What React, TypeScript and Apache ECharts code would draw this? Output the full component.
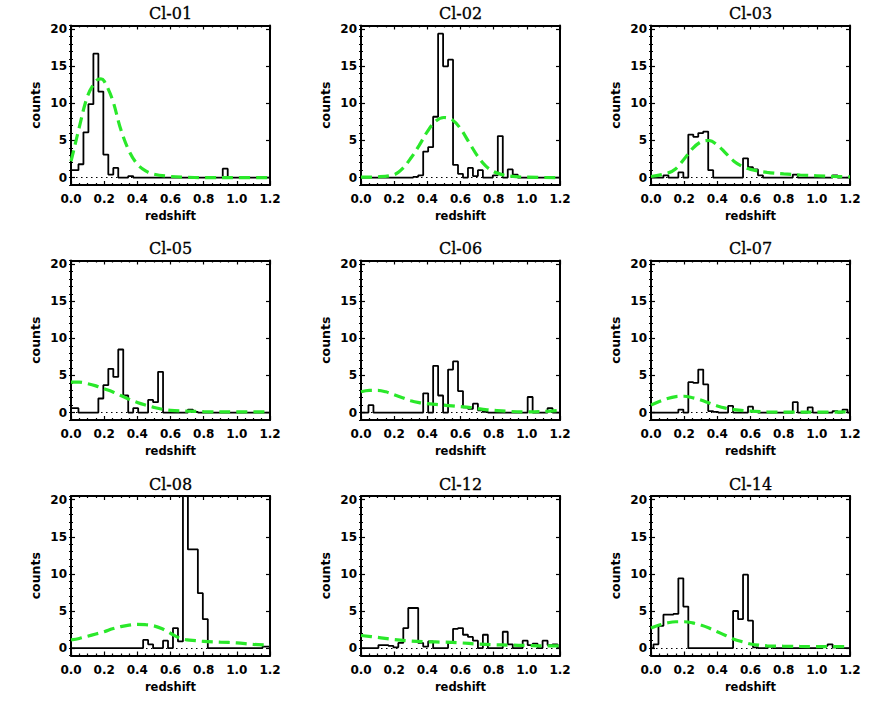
import React, { useEffect, useRef } from "react";
import * as echarts from "echarts";

// ---------- DATA ----------
const CLUSTERS = ["Cl-01", "Cl-02", "Cl-03", "Cl-05", "Cl-06", "Cl-07", "Cl-08", "Cl-12", "Cl-14"];
const BIN_WIDTH = 0.03; // histogram bins centred at 0, 0.03, ... 1.2
const X_TICKS_MAX = 1.2;
const Y_TICKS = [0, 5, 10, 15, 20];

// histogram counts per bin (41 bins, centres 0.00 .. 1.20)
const hist01 = [1, 1, 1.8, 6.1, 9.9, 16.7, 11.6, 3.1, 0.4, 1.3, 0, 0, 0.2, 0, 0, 0, 0, 0, 0, 0, 0, 0, 0, 0, 0, 0, 0, 0, 0, 0, 0, 1.2, 0, 0, 0, 0, 0, 0, 0, 0, 0];
const hist02 = [0, 0, 0, 0, 0, 0, 0, 0, 0, 0, 0, 0.1, 0.3, 3.5, 4.1, 8.2, 19.4, 15.0, 15.9, 1.7, 0.5, 0, 1.3, 0.2, 1.0, 0, 0, 0.3, 5.6, 0, 1.1, 0.4, 0, 0, 0, 0, 0, 0, 0, 0, 0];
const hist03 = [0, 0, 0, 0.3, 0, 0, 0.7, 0, 5.8, 5.5, 6.0, 6.2, 1.0, 0, 0, 0, 0, 0, 0, 2.6, 1.4, 1.1, 0.3, 0, 0, 0, 0, 0, 0, 0.4, 0, 0, 0, 0, 0, 0, 0, 0.3, 0, 0, 0];
const hist05 = [0.6, 0.6, 0, 0, 0, 0, 1.9, 3.7, 5.9, 4.8, 8.5, 2.3, 0, 0.6, 0, 0, 1.7, 1.4, 5.5, 0, 0, 0, 0, 0, 0.4, 0.1, 0, 0, 0, 0, 0, 0, 0, 0, 0, 0, 0, 0, 0, 0, 0];
const hist06 = [0, 0, 1.0, 0, 0, 0, 0, 0, 0, 0, 0, 0, 0, 2.6, 0, 6.3, 2.3, 0, 5.8, 6.9, 2.9, 0.7, 0.5, 1.2, 0.3, 0.1, 0, 0, 0, 0, 0, 0, 0, 0, 2.1, 0, 0, 0, 0.6, 0, 0];
const hist07 = [0, 0, 0, 0, 0, 0, 0.4, 0, 4.1, 4.0, 5.8, 3.8, 0.2, 0.1, 0, 0, 0.9, 0, 0, 0, 0.8, 0.2, 0, 0, 0, 0, 0, 0, 0, 1.4, 0, 0, 0.7, 0, 0, 0, 0, 0.2, 0, 0.4, 0];
const hist08 = [0, 0, 0, 0, 0, 0, 0, 0, 0, 0, 0, 0, 0, 0, 0, 1.1, 0.5, 0, 0, 1.0, 0, 2.7, 0.9, 25, 13.3, 13.3, 7.4, 3.9, 0, 0, 0, 0, 0, 0, 0, 0, 0, 0, 0, 0.2, 0.2];
const hist12 = [0, 0, 0, 0, 0.4, 0.4, 0.3, 0.1, 0.7, 2.7, 5.4, 5.4, 0.7, 0.2, 0.9, 0, 0, 0, 0.7, 2.6, 2.7, 1.8, 1.5, 1.0, 0, 1.8, 0, 0, 0, 2.2, 0.5, 0, 0, 1.0, 0.4, 0.6, 0, 1.0, 0.4, 0.5, 0];
const hist14 = [0, 0.5, 3.0, 4.5, 4.5, 4.6, 9.4, 5.6, 0, 0, 0, 0, 0, 0, 0, 0, 0, 5.0, 3.9, 9.9, 3.7, 0.1, 0, 0, 0.2, 0, 0, 0, 0, 0, 0, 0, 0, 0, 0, 0.3, 0.5, 0.1, 0, 0, 0];

// model curves: [redshift, counts]
const curve01 = [[0, 2.2], [0.02, 4], [0.05, 6.8], [0.1, 11], [0.15, 13], [0.18, 13.3], [0.2, 13], [0.25, 10.5], [0.3, 6.5], [0.35, 3.6], [0.4, 1.8], [0.45, 0.9], [0.5, 0.45], [0.6, 0.15], [0.7, 0.05], [0.8, 0], [1.0, 0], [1.2, 0]];
const curve02 = [[0, 0.05], [0.1, 0.1], [0.2, 0.4], [0.25, 1.2], [0.3, 2.6], [0.35, 4.3], [0.4, 6.2], [0.45, 7.6], [0.5, 8.1], [0.55, 7.8], [0.6, 6.6], [0.65, 4.8], [0.7, 3.0], [0.75, 1.6], [0.8, 0.8], [0.85, 0.4], [0.9, 0.2], [1.0, 0.05], [1.2, 0]];
const curve03 = [[0, 0.15], [0.1, 0.6], [0.15, 1.2], [0.2, 2.5], [0.25, 3.9], [0.3, 4.8], [0.35, 5.0], [0.4, 4.4], [0.45, 3.3], [0.5, 2.2], [0.55, 1.5], [0.6, 1.1], [0.7, 0.7], [0.8, 0.5], [0.9, 0.35], [1.0, 0.25], [1.1, 0.15], [1.2, 0.1]];
const curve05 = [[0, 4.1], [0.05, 4.1], [0.1, 3.9], [0.15, 3.6], [0.2, 3.2], [0.25, 2.8], [0.3, 2.3], [0.35, 1.8], [0.4, 1.35], [0.45, 1.0], [0.5, 0.7], [0.55, 0.45], [0.6, 0.3], [0.7, 0.2], [0.8, 0.12], [1.0, 0.1], [1.2, 0.1]];
const curve06 = [[0, 2.8], [0.05, 3.0], [0.1, 3.0], [0.15, 2.8], [0.2, 2.4], [0.25, 2.0], [0.3, 1.6], [0.35, 1.35], [0.4, 1.2], [0.45, 1.1], [0.5, 1.0], [0.55, 0.9], [0.6, 0.8], [0.65, 0.7], [0.7, 0.55], [0.75, 0.4], [0.8, 0.3], [0.9, 0.15], [1.0, 0.1], [1.1, 0.15], [1.2, 0.3]];
const curve07 = [[0, 1.0], [0.05, 1.5], [0.1, 1.9], [0.15, 2.15], [0.2, 2.2], [0.25, 2.0], [0.3, 1.7], [0.35, 1.3], [0.4, 0.9], [0.45, 0.6], [0.5, 0.4], [0.6, 0.2], [0.7, 0.1], [0.8, 0.05], [1.0, 0.05], [1.2, 0.1]];
const curve08 = [[0, 1.1], [0.05, 1.3], [0.1, 1.6], [0.15, 1.9], [0.2, 2.2], [0.25, 2.6], [0.3, 2.9], [0.35, 3.1], [0.4, 3.2], [0.45, 3.15], [0.5, 3.0], [0.55, 2.6], [0.6, 2.0], [0.65, 1.4], [0.7, 1.1], [0.75, 1.0], [0.8, 0.9], [0.9, 0.8], [1.0, 0.7], [1.1, 0.5], [1.2, 0.4]];
const curve12 = [[0, 1.7], [0.1, 1.45], [0.2, 1.15], [0.3, 0.95], [0.4, 0.85], [0.5, 0.8], [0.6, 0.7], [0.7, 0.55], [0.8, 0.45], [0.9, 0.4], [1.0, 0.35], [1.1, 0.3], [1.2, 0.3]];
const curve14 = [[0, 2.7], [0.05, 3.1], [0.1, 3.4], [0.15, 3.55], [0.2, 3.55], [0.25, 3.4], [0.3, 3.1], [0.35, 2.7], [0.4, 2.2], [0.45, 1.7], [0.5, 1.2], [0.55, 0.85], [0.6, 0.55], [0.7, 0.3], [0.8, 0.25], [1.0, 0.2], [1.2, 0.2]];

const HISTS = [hist01, hist02, hist03, hist05, hist06, hist07, hist08, hist12, hist14];
const CURVES = [curve01, curve02, curve03, curve05, curve06, curve07, curve08, curve12, curve14];

// ---------- LAYOUT / STYLE ----------
const COL_LEFT = [71, 361, 651];
const ROW_TOP = [25.5, 260.5, 496];
const PW = 199;
const PH = 159.5;
const Y_MIN = -1;
const Y_MAX = 20.5;
const GREEN = "#2ae82a";
const SANS = "DejaVu Sans";

export default function App() {
  const ref = useRef<HTMLDivElement>(null);

  useEffect(() => {
    if (!ref.current) return;
    const chart = echarts.init(ref.current, undefined, { renderer: "svg" });

    const grids: any[] = [];
    const xAxes: any[] = [];
    const yAxes: any[] = [];
    const series: any[] = [];
    const graphics: any[] = [];

    const lineStyle = { color: "#000", width: 2 };
    const tickStyle = { color: "#000", width: 1.2 };
    const labelStyle = { color: "#000", fontFamily: SANS, fontWeight: "bold", fontSize: 12 };

    CLUSTERS.forEach((name, i) => {
      const col = i % 3;
      const row = Math.floor(i / 3);
      grids.push({ left: COL_LEFT[col], top: ROW_TOP[row], width: PW, height: PH, containLabel: false });

      const xBase = {
        gridIndex: i,
        type: "value",
        min: 0,
        max: X_TICKS_MAX,
        interval: 0.2,
        axisLine: { show: true, onZero: false, lineStyle },
        axisTick: { show: true, inside: true, length: 4, lineStyle: tickStyle },
        minorTick: { show: true, splitNumber: 4, length: 2, lineStyle: tickStyle },
        splitLine: { show: false },
        minorSplitLine: { show: false },
      };
      xAxes.push({
        ...xBase,
        position: "bottom",
        axisLabel: {
          ...labelStyle,
          margin: 8,
          showMinLabel: true,
          showMaxLabel: true,
          formatter: (v: number) => v.toFixed(1),
        },
        name: "redshift",
        nameLocation: "middle",
        nameGap: 25,
        nameTextStyle: { color: "#000", fontFamily: SANS, fontWeight: "bold", fontSize: 11.5 },
      });
      xAxes.push({ ...xBase, position: "top", axisLabel: { show: false } });

      const yBase = {
        gridIndex: i,
        type: "value",
        min: Y_MIN,
        max: Y_MAX,
        splitLine: { show: false },
      };
      yAxes.push({
        ...yBase,
        position: "left",
        axisLine: { show: true, onZero: false, lineStyle },
        axisTick: { show: true, inside: true, length: 4, lineStyle: tickStyle, customValues: Y_TICKS },
        axisLabel: { ...labelStyle, margin: 4, customValues: Y_TICKS },
        name: "counts",
        nameLocation: "middle",
        nameRotate: 90,
        nameGap: 29,
        nameTextStyle: { color: "#000", fontFamily: SANS, fontWeight: "bold", fontSize: 12.5 },
      });
      yAxes.push({
        ...yBase,
        position: "left",
        interval: 1,
        axisLine: { show: false },
        axisTick: { show: true, inside: true, length: 2, lineStyle: tickStyle },
        axisLabel: { show: false },
      });
      yAxes.push({
        ...yBase,
        position: "right",
        axisLine: { show: true, onZero: false, lineStyle },
        axisTick: { show: true, inside: true, length: 4, lineStyle: tickStyle, customValues: Y_TICKS },
        axisLabel: { show: false },
      });
      yAxes.push({
        ...yBase,
        position: "right",
        interval: 1,
        axisLine: { show: false },
        axisTick: { show: true, inside: true, length: 2, lineStyle: tickStyle },
        axisLabel: { show: false },
      });

      series.push({
        type: "line",
        name: name + " histogram",
        xAxisIndex: 2 * i,
        yAxisIndex: 4 * i,
        step: "middle",
        symbol: "none",
        clip: true,
        z: 3,
        lineStyle: { color: "#000", width: 1.8 },
        data: HISTS[i].map((v, k) => [+(k * BIN_WIDTH).toFixed(2), v]),
        markLine: {
          silent: true,
          symbol: "none",
          z: 1,
          label: { show: false },
          lineStyle: { color: "#000", width: 1, type: [1.5, 3.5] },
          data: [{ yAxis: 0 }],
        },
      });
      series.push({
        type: "line",
        name: name + " model",
        xAxisIndex: 2 * i,
        yAxisIndex: 4 * i,
        smooth: 0.35,
        symbol: "none",
        clip: true,
        z: 4,
        lineStyle: { color: GREEN, width: 3.2, type: [11, 6] },
        data: CURVES[i],
      });

      graphics.push({
        type: "text",
        x: COL_LEFT[col] + PW / 2,
        y: ROW_TOP[row] - 12,
        style: {
          text: name,
          textAlign: "center",
          textVerticalAlign: "middle",
          fontFamily: "DejaVu Serif",
          fontSize: 16,
          fill: "#000",
          stroke: "#000",
          lineWidth: 0.3,
        },
      });
    });

    chart.setOption({
      animation: false,
      backgroundColor: "#fff",
      grid: grids,
      xAxis: xAxes,
      yAxis: yAxes,
      series,
      graphic: graphics,
    });

    return () => chart.dispose();
  }, []);

  return <div ref={ref} style={{ position: "absolute", left: 0, top: 0, width: 872, height: 708 }} />;
}
